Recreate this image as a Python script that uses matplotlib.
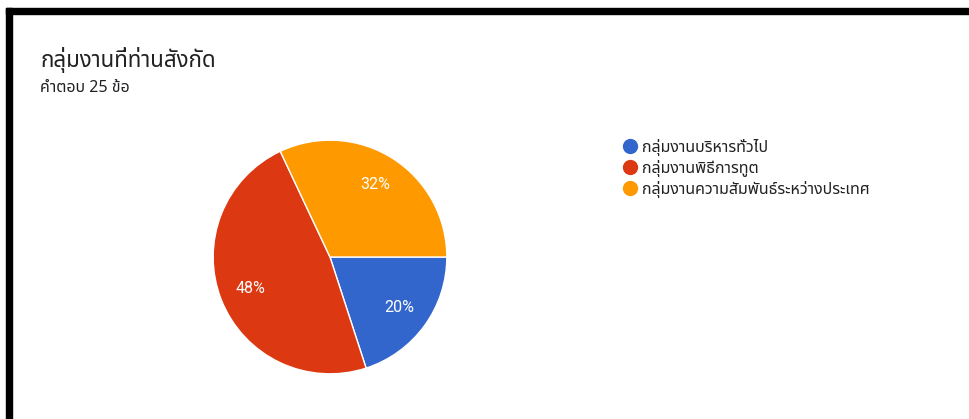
import matplotlib
matplotlib.use('Agg')
import matplotlib.pyplot as plt
import matplotlib.font_manager as fm
from matplotlib.ft2font import FT2Font
from matplotlib.lines import Line2D
from matplotlib.patches import Rectangle

# data
title = 'กลุ่มงานที่ท่านสังกัด'
subtitle = 'คำตอบ 25 ข้อ'
labels = ['กลุ่มงานบริหารทั่วไป', 'กลุ่มงานพิธีการทูต', 'กลุ่มงานความสัมพันธ์ระหว่างประเทศ']
shares = [20, 48, 32]
colors = ['#3366CC', '#DC3912', '#FF9900']


def find_thai_font():
    # look for any installed font that has Thai glyphs
    preferred = ['Noto Sans Thai', 'Noto Sans Thai UI', 'Sarabun', 'Loma', 'Garuda', 'Kinnari', 'Norasi', 'Waree', 'Umpush', 'Tlwg Typo']
    found = []
    for f in fm.fontManager.ttflist:
        try:
            if 0x0E01 in FT2Font(f.fname).get_charmap():
                found.append(f.name)
        except Exception:
            pass
    for p in preferred:
        if p in found:
            return p
    return found[0] if found else None


thai = find_thai_font()
families = ([thai] if thai else []) + ['Roboto', 'DejaVu Sans']
plt.rcParams['font.family'] = families

W, H = 969, 419
fig = plt.figure(figsize=(W / 100, H / 100), dpi=100)
fig.patch.set_facecolor('white')

# black frame on the top and left edges
fig.add_artist(Rectangle((6 / W, 0), 6 / W, (H - 8) / H, transform=fig.transFigure, color='black', zorder=5))
fig.add_artist(Rectangle((6 / W, (H - 14) / H), (W - 6) / W, 6 / H, transform=fig.transFigure, color='black', zorder=5))

fig.text(40 / W, 1 - 60 / H, title, fontsize=16, color='#212121', va='center', ha='left')
fig.text(40 / W, 1 - 88 / H, subtitle, fontsize=11.5, color='#202124', va='center', ha='left')

# pie: center ~ (330, 257) px, radius ~ 118 px
cx, cy, r = 330, 257, 118
ax = fig.add_axes([(cx - r) / W, (H - cy - r) / H, 2 * r / W, 2 * r / H])
wedges, texts, autotexts = ax.pie(
    shares, colors=colors, startangle=0, counterclock=False,
    autopct='%1.0f%%', pctdistance=0.73,
    wedgeprops={'edgecolor': 'white', 'linewidth': 1},
    textprops={'color': 'white', 'fontsize': 11.5, 'family': ['Roboto', 'DejaVu Sans']})
ax.set_xlim(-1.01, 1.01)
ax.set_ylim(-1.01, 1.01)
ax.set_aspect('equal')
ax.axis('off')

handles = [Line2D([], [], marker='o', linestyle='none', markersize=10,
                  markerfacecolor=c, markeredgecolor=c) for c in colors]
fig.legend(handles, labels, loc='upper left', bbox_to_anchor=(614 / W, 1 - 131 / H),
           frameon=False, fontsize=11.5, labelspacing=0.25, handletextpad=0.25,
           handlelength=1.0, borderpad=0, labelcolor='#222222')

fig.savefig('out.png', dpi=100, facecolor='white')
